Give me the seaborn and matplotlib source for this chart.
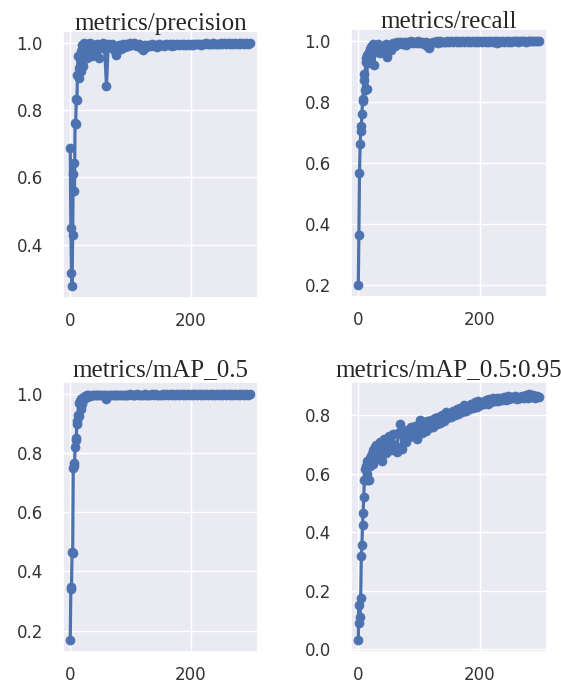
import numpy as np
import matplotlib
matplotlib.use('Agg')
import matplotlib.pyplot as plt
from matplotlib.ticker import MultipleLocator
import seaborn as sns

sns.set_theme(style='darkgrid')
plt.rcParams['font.family'] = ['DejaVu Sans']

# 训练轮次：前30轮逐轮，之后每3轮取一个点
epochs = list(range(30)) + list(range(30, 300, 3))

precision = [
    0.688, 0.450, 0.317, 0.278, 0.430, 0.610, 0.642, 0.560, 0.761, 0.758,
    0.834, 0.830, 0.905, 0.962, 0.925, 0.895, 0.955, 0.915, 0.975, 0.940,
    0.992, 0.930, 0.985, 0.998, 0.960, 0.990, 0.975, 0.997, 0.955, 0.992,
    0.985, 0.998, 0.960, 0.993, 0.975, 0.996, 0.955, 0.990, 0.998, 0.982,
    0.873, 0.995, 0.988, 0.997, 0.978, 0.965, 0.985, 0.992, 0.983, 0.995,
    0.988, 0.996, 0.990, 0.998, 0.993, 0.999, 0.995, 0.990, 0.996, 0.985,
    0.980, 0.992, 0.988, 0.994, 0.990, 0.995, 0.991, 0.994, 0.989, 0.995,
    0.992, 0.994, 0.990, 0.995, 0.992, 0.996, 0.991, 0.995, 0.993, 0.996,
    0.992, 0.995, 0.993, 0.996, 0.994, 0.997, 0.993, 0.996, 0.994, 0.997,
    0.995, 0.997, 0.994, 0.997, 0.995, 0.998, 0.995, 0.997, 0.996, 0.998,
    0.995, 0.997, 0.996, 0.998, 0.995, 0.998, 0.996, 0.998, 0.996, 0.998,
    0.997, 0.998, 0.996, 0.998, 0.997, 0.998, 0.997, 0.999, 0.997, 0.998,
]

recall = [
    0.200, 0.365, 0.567, 0.662, 0.706, 0.722, 0.760, 0.805, 0.810, 0.874,
    0.893, 0.840, 0.933, 0.946, 0.842, 0.955, 0.930, 0.965, 0.950, 0.975,
    0.945, 0.980, 0.960, 0.985, 0.970, 0.990, 0.922, 0.975, 0.985, 0.965,
    0.980, 0.990, 0.960, 0.985, 0.975, 0.992, 0.949, 0.988, 0.970, 0.995,
    0.985, 0.997, 0.990, 0.998, 0.992, 0.997, 0.988, 0.998, 0.994, 0.999,
    0.993, 0.998, 0.995, 0.999, 0.994, 0.998, 0.990, 0.997, 0.985, 0.976,
    0.995, 0.998, 0.996, 0.999, 0.995, 0.999, 0.996, 0.998, 0.997, 0.999,
    0.996, 0.999, 0.997, 0.999, 0.996, 0.999, 0.997, 0.999, 0.998, 0.999,
    0.997, 0.999, 0.998, 0.999, 0.997, 0.999, 0.998, 0.999, 0.998, 1.000,
    0.998, 0.999, 0.997, 0.999, 0.998, 0.999, 0.995, 0.999, 0.998, 1.000,
    0.998, 0.999, 0.998, 1.000, 0.998, 0.999, 0.999, 1.000, 0.998, 0.999,
    0.999, 1.000, 0.998, 0.999, 0.999, 1.000, 0.999, 1.000, 0.999, 1.000,
]

map50 = [
    0.169, 0.346, 0.340, 0.466, 0.462, 0.750, 0.767, 0.758, 0.820, 0.845,
    0.850, 0.907, 0.900, 0.930, 0.969, 0.925, 0.975, 0.950, 0.982, 0.965,
    0.985, 0.978, 0.990, 0.985, 0.992, 0.988, 0.994, 0.991, 0.995, 0.993,
    0.996, 0.994, 0.997, 0.995, 0.997, 0.996, 0.998, 0.996, 0.997, 0.995,
    0.983, 0.997, 0.996, 0.998, 0.997, 0.998, 0.997, 0.998, 0.997, 0.998,
    0.997, 0.998, 0.997, 0.999, 0.998, 0.998, 0.997, 0.999, 0.998, 0.998,
    0.997, 0.999, 0.998, 0.998, 0.997, 0.999, 0.998, 0.999, 0.998, 0.998,
    0.998, 0.999, 0.998, 0.999, 0.998, 0.999, 0.998, 0.999, 0.998, 0.999,
    0.998, 0.999, 0.998, 0.999, 0.998, 0.999, 0.998, 0.999, 0.998, 0.999,
    0.998, 0.999, 0.998, 0.999, 0.998, 0.999, 0.998, 0.999, 0.998, 0.999,
    0.998, 0.999, 0.998, 0.999, 0.998, 0.999, 0.998, 0.999, 0.998, 0.999,
    0.998, 0.999, 0.998, 0.999, 0.998, 0.999, 0.998, 0.999, 0.998, 0.999,
]

map50_95 = [
    0.032, 0.150, 0.090, 0.110, 0.175, 0.320, 0.355, 0.423, 0.466, 0.520,
    0.578, 0.617, 0.580, 0.625, 0.600, 0.645, 0.578, 0.640, 0.578, 0.655,
    0.625, 0.660, 0.640, 0.668, 0.635, 0.680, 0.650, 0.690, 0.655, 0.675,
    0.700, 0.660, 0.710, 0.645, 0.720, 0.670, 0.700, 0.730, 0.680, 0.735,
    0.700, 0.674, 0.740, 0.770, 0.685, 0.745, 0.710, 0.750, 0.725, 0.760,
    0.730, 0.765, 0.720, 0.755, 0.785, 0.740, 0.770, 0.745, 0.780, 0.755,
    0.785, 0.760, 0.790, 0.770, 0.795, 0.775, 0.800, 0.780, 0.810, 0.790,
    0.805, 0.795, 0.815, 0.800, 0.820, 0.805, 0.825, 0.810, 0.835, 0.815,
    0.830, 0.820, 0.840, 0.825, 0.845, 0.830, 0.850, 0.835, 0.845, 0.840,
    0.852, 0.840, 0.855, 0.845, 0.858, 0.848, 0.860, 0.850, 0.858, 0.852,
    0.862, 0.852, 0.865, 0.855, 0.862, 0.858, 0.866, 0.856, 0.864, 0.860,
    0.866, 0.858, 0.868, 0.860, 0.872, 0.862, 0.868, 0.860, 0.866, 0.862,
]

titles = ['metrics/precision', 'metrics/recall', 'metrics/mAP_0.5', 'metrics/mAP_0.5:0.95']
series = [precision, recall, map50, map50_95]

# 子图位置（图宽 561，高 685 像素）
W, H = 561, 685
boxes = [(63, 31, 195, 267), (351, 29, 196, 268),
         (63, 382, 195, 270), (351, 382, 196, 270)]
pads = [1, 1, 4, 4]

fig = plt.figure(figsize=(W / 100, H / 100), dpi=100)
color = '#4C72B0'

for (l, t, w, h), title, vals, pad in zip(boxes, titles, series, pads):
    ax = fig.add_axes([l / W, 1 - (t + h) / H, w / W, h / H])
    sns.lineplot(x=epochs, y=vals, ax=ax, color=color, marker='o',
                 markersize=6.5, markeredgecolor=color, markeredgewidth=0.5,
                 linewidth=2.3)
    ax.set_xlim(-12, 311)
    ax.set_xticks([0, 200])
    ax.yaxis.set_major_locator(MultipleLocator(0.2))
    ax.set_title(title, family='Liberation Serif', fontsize=18, pad=pad)
    ax.tick_params(axis='y', length=0, labelsize=12, pad=14.5, colors='#333333')
    ax.tick_params(axis='x', length=0, labelsize=12, pad=10, colors='#333333')
    ax.set_xlabel('')
    ax.set_ylabel('')

plt.savefig('out.png', dpi=100)
